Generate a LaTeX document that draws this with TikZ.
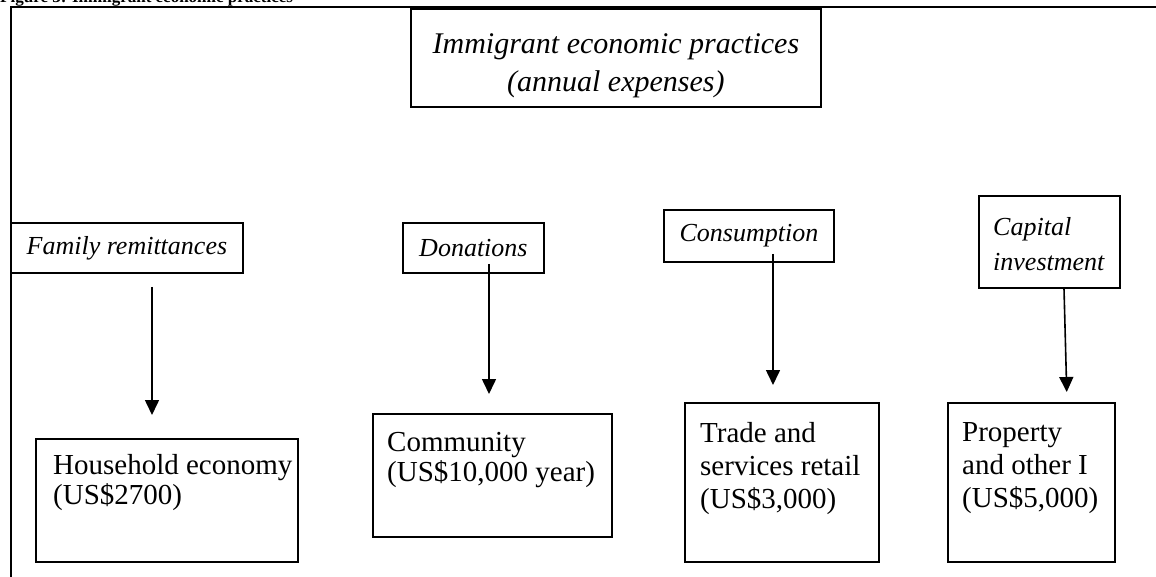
\documentclass[tikz,border=0pt]{standalone}
\usepackage{fontspec}
\setmainfont{Liberation Serif}
\usetikzlibrary{arrows.meta}
\begin{document}
\begin{tikzpicture}[x=1pt,y=-1pt,
  frame/.style={line width=2.4pt},
  box/.style={draw, line width=1.8pt, inner sep=0pt, anchor=north west},
  lbl/.style={font=\itshape\fontsize{26}{35}\selectfont},
  body/.style={inner sep=0pt, anchor=north west, align=left, font=\fontsize{29}{30}\selectfont},
  bodyw/.style={body, font=\fontsize{29}{33}\selectfont},
  arr/.style={line width=1.6pt, -{Triangle[width=14pt,length=15pt]}}]
\useasboundingbox (0,0) rectangle (1156,577);
% header (clipped at top)
\node[anchor=base west, inner sep=0pt, font=\bfseries\fontsize{17}{17}\selectfont] (hdr) at (0,3) {Figure 3: Immigrant economic practices};
% frame
\draw[frame] (1170,7) -- (11,7) -- (11,590);
% title
\node[box, minimum width=410pt, minimum height=98pt] (title) at (410,8) {};
\node[inner sep=0pt, align=center, font=\itshape\fontsize{30}{38}\selectfont] (titlet) at ([yshift=-8pt]title.center) {Immigrant economic practices\\(annual expenses)};
% category labels
\node[box, lbl, minimum width=232pt, minimum height=50pt] (famr) at (10,222) {Family remittances};
\node[box, lbl, minimum width=141pt, minimum height=50pt] (don) at (402,222) {Donations};
\node[box, lbl, minimum width=170pt, minimum height=52pt] (cons) at (663,209) {Consumption};
\node[box, minimum width=141pt, minimum height=92pt] (cap) at (978,195) {};
\node[lbl, inner sep=0pt, anchor=north west, align=left] (capt) at (993,217) {Capital\\investment};
% destination boxes
\node[box, minimum width=262pt, minimum height=123pt] (hh) at (35,438) {};
\node[body] (hht) at (53,454) {Household economy\\(US\$2700)};
\node[box, minimum width=239pt, minimum height=123pt] (comm) at (372,413) {};
\node[body] (commt) at (387,432) {Community\\(US\$10,000 year)};
\node[box, minimum width=194pt, minimum height=159pt] (trade) at (684,402) {};
\node[bodyw] (tradet) at (700,422) {Trade and\\services retail\\(US\$3,000)};
\node[box, minimum width=167pt, minimum height=159pt] (prop) at (947,402) {};
\node[bodyw] (propt) at (962,422) {Property\\and other I\\(US\$5,000)};
% arrow x positions
\coordinate (x1) at (152,0);
\coordinate (x2) at (489,0);
\coordinate (x3) at (773,0);
\coordinate (x4a) at (1064,0);
\coordinate (x4b) at (1067,0);
% arrows
\draw[arr, shorten <=13pt, shorten >=23pt] (famr.south -| x1) -- (hh.north -| x1);
\draw[arr, shorten <=16pt, shorten >=19pt] (don.center -| x2) -- (comm.north -| x2);
\draw[arr, shorten <=18pt, shorten >=17pt] (cons.center -| x3) -- (trade.north -| x3);
\draw[arr, shorten >=10pt] (cap.south -| x4a) -- (prop.north -| x4b);
\end{tikzpicture}
\end{document}
